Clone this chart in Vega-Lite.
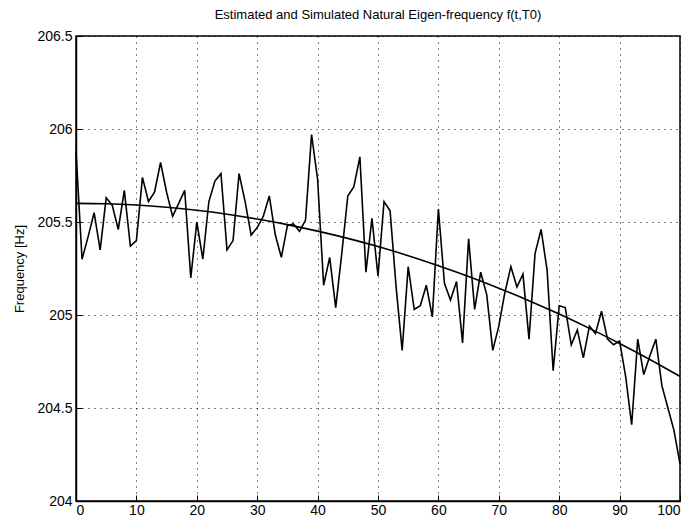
{
  "$schema": "https://vega.github.io/schema/vega-lite/v6.json",
  "autosize": {"type": "none"},
  "padding": {"left": 76, "top": 36, "right": 14, "bottom": 23},
  "width": 604,
  "height": 465,
  "background": "white",
  "title": {
    "text": "Estimated and Simulated Natural Eigen-frequency f(t,T0)",
    "font": "Liberation Sans",
    "fontSize": 13,
    "fontWeight": "normal",
    "color": "black",
    "offset": 7
  },
  "config": {
    "view": {"stroke": "black", "strokeWidth": 1.5},
    "axis": {
      "labelFont": "Liberation Sans",
      "labelFontSize": 14,
      "labelColor": "black",
      "titleFont": "Liberation Sans",
      "titleFontSize": 13,
      "titleFontWeight": "normal",
      "titleColor": "black",
      "domainColor": "black",
      "domainWidth": 1.5,
      "tickColor": "black",
      "tickSize": -6,
      "labelPadding": 10,
      "gridColor": "black",
      "gridDash": [1, 5],
      "gridWidth": 1,
      "gridOpacity": 1
    }
  },
  "datasets": {
    "sim": [
      {"t": 0, "f": 205.88}, {"t": 1, "f": 205.30}, {"t": 2, "f": 205.42}, {"t": 3, "f": 205.55},
      {"t": 4, "f": 205.35}, {"t": 5, "f": 205.63}, {"t": 6, "f": 205.59}, {"t": 7, "f": 205.46},
      {"t": 8, "f": 205.67}, {"t": 9, "f": 205.37}, {"t": 10, "f": 205.40}, {"t": 11, "f": 205.74},
      {"t": 12, "f": 205.61}, {"t": 13, "f": 205.66}, {"t": 14, "f": 205.82}, {"t": 15, "f": 205.66},
      {"t": 16, "f": 205.53}, {"t": 17, "f": 205.60}, {"t": 18, "f": 205.67}, {"t": 19, "f": 205.20},
      {"t": 20, "f": 205.50}, {"t": 21, "f": 205.30}, {"t": 22, "f": 205.61}, {"t": 23, "f": 205.72},
      {"t": 24, "f": 205.76}, {"t": 25, "f": 205.35}, {"t": 26, "f": 205.40}, {"t": 27, "f": 205.76},
      {"t": 28, "f": 205.61}, {"t": 29, "f": 205.43}, {"t": 30, "f": 205.47}, {"t": 31, "f": 205.53},
      {"t": 32, "f": 205.64}, {"t": 33, "f": 205.43}, {"t": 34, "f": 205.31}, {"t": 35, "f": 205.48},
      {"t": 36, "f": 205.49}, {"t": 37, "f": 205.45}, {"t": 38, "f": 205.51}, {"t": 39, "f": 205.97},
      {"t": 40, "f": 205.73}, {"t": 41, "f": 205.16}, {"t": 42, "f": 205.31}, {"t": 43, "f": 205.04},
      {"t": 44, "f": 205.33}, {"t": 45, "f": 205.64}, {"t": 46, "f": 205.69}, {"t": 47, "f": 205.85},
      {"t": 48, "f": 205.23}, {"t": 49, "f": 205.52}, {"t": 50, "f": 205.21}, {"t": 51, "f": 205.61},
      {"t": 52, "f": 205.56}, {"t": 53, "f": 205.15}, {"t": 54, "f": 204.81}, {"t": 55, "f": 205.26},
      {"t": 56, "f": 205.03}, {"t": 57, "f": 205.05}, {"t": 58, "f": 205.16}, {"t": 59, "f": 204.99},
      {"t": 60, "f": 205.57}, {"t": 61, "f": 205.17}, {"t": 62, "f": 205.08}, {"t": 63, "f": 205.18},
      {"t": 64, "f": 204.85}, {"t": 65, "f": 205.41}, {"t": 66, "f": 205.03}, {"t": 67, "f": 205.23},
      {"t": 68, "f": 205.11}, {"t": 69, "f": 204.81}, {"t": 70, "f": 204.94}, {"t": 71, "f": 205.12},
      {"t": 72, "f": 205.26}, {"t": 73, "f": 205.15}, {"t": 74, "f": 205.22}, {"t": 75, "f": 204.87},
      {"t": 76, "f": 205.33}, {"t": 77, "f": 205.46}, {"t": 78, "f": 205.24}, {"t": 79, "f": 204.70},
      {"t": 80, "f": 205.05}, {"t": 81, "f": 205.04}, {"t": 82, "f": 204.84}, {"t": 83, "f": 204.92},
      {"t": 84, "f": 204.77}, {"t": 85, "f": 204.94}, {"t": 86, "f": 204.90}, {"t": 87, "f": 205.02},
      {"t": 88, "f": 204.87}, {"t": 89, "f": 204.84}, {"t": 90, "f": 204.86}, {"t": 91, "f": 204.67},
      {"t": 92, "f": 204.41}, {"t": 93, "f": 204.87}, {"t": 94, "f": 204.68}, {"t": 95, "f": 204.78},
      {"t": 96, "f": 204.87}, {"t": 97, "f": 204.62}, {"t": 98, "f": 204.50}, {"t": 99, "f": 204.38},
      {"t": 100, "f": 204.20}
    ],
    "est": [
      {"t": 0, "f": 205.600}, {"t": 5, "f": 205.598}, {"t": 10, "f": 205.591}, {"t": 15, "f": 205.579},
      {"t": 20, "f": 205.563}, {"t": 25, "f": 205.542}, {"t": 30, "f": 205.516}, {"t": 35, "f": 205.486},
      {"t": 40, "f": 205.451}, {"t": 45, "f": 205.412}, {"t": 50, "f": 205.368}, {"t": 55, "f": 205.319},
      {"t": 60, "f": 205.265}, {"t": 65, "f": 205.207}, {"t": 70, "f": 205.144}, {"t": 75, "f": 205.077},
      {"t": 80, "f": 205.005}, {"t": 85, "f": 204.928}, {"t": 90, "f": 204.847}, {"t": 95, "f": 204.761},
      {"t": 100, "f": 204.670}
    ]
  },
  "encoding": {
    "x": {
      "field": "t",
      "type": "quantitative",
      "scale": {"domain": [0, 100], "nice": false, "zero": false},
      "axis": {"title": null, "values": [0, 10, 20, 30, 40, 50, 60, 70, 80, 90, 100], "grid": true, "labelPadding": 8}
    },
    "y": {
      "field": "f",
      "type": "quantitative",
      "scale": {"domain": [204, 206.5], "nice": false, "zero": false},
      "axis": {
        "title": "Frequency [Hz]",
        "values": [204, 204.5, 205, 205.5, 206, 206.5],
        "labelExpr": "'' + datum.value",
        "grid": true,
        "titlePadding": 10
      }
    }
  },
  "layer": [
    {
      "data": {"name": "sim"},
      "mark": {"type": "line", "color": "black", "strokeWidth": 1.6}
    },
    {
      "data": {"name": "est"},
      "mark": {"type": "line", "color": "black", "strokeWidth": 1.6, "interpolate": "monotone"}
    }
  ]
}
